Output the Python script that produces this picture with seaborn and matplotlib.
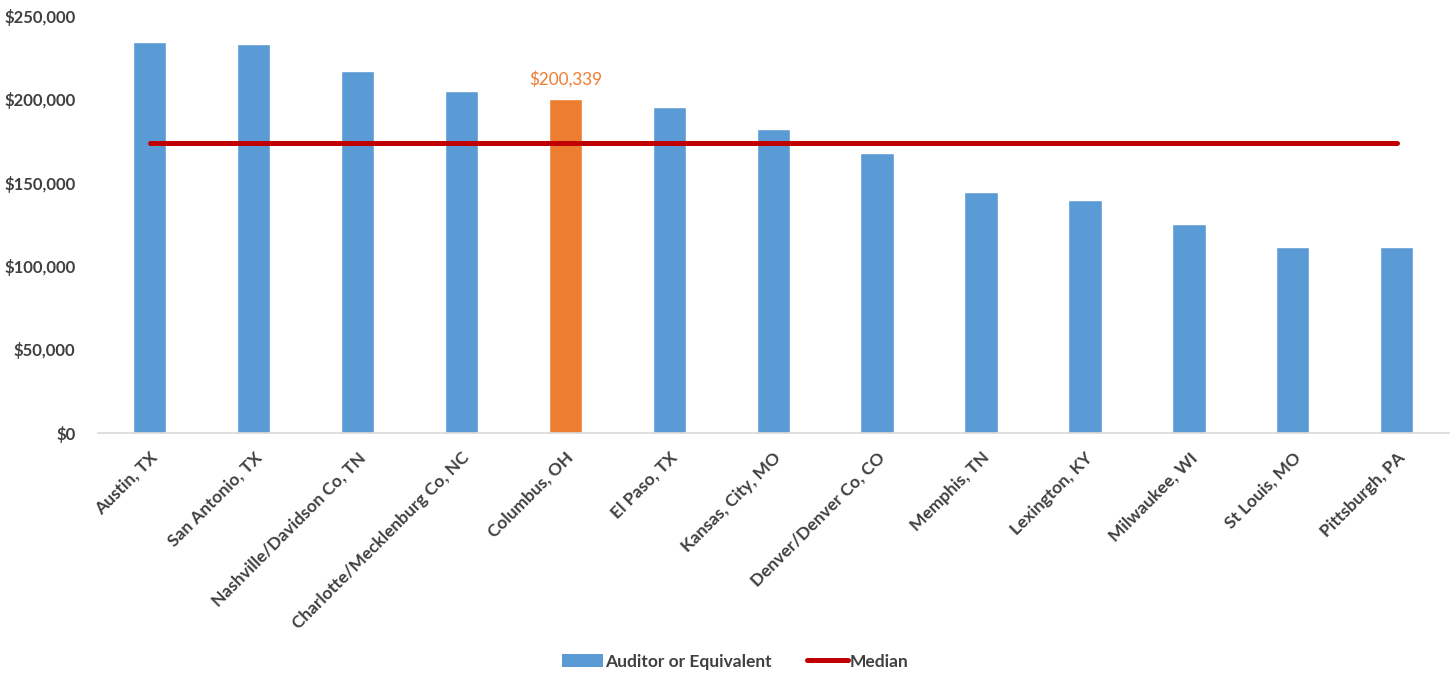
import matplotlib
matplotlib.use("Agg")
import matplotlib.pyplot as plt
import seaborn as sns
import numpy as np
import pandas as pd
from matplotlib.patches import Patch
from matplotlib.lines import Line2D
from matplotlib.ticker import FuncFormatter

cities = ["Austin, TX", "San Antonio, TX", "Nashville/Davidson Co, TN",
          "Charlotte/Mecklenburg Co, NC", "Columbus, OH", "El Paso, TX",
          "Kansas, City, MO", "Denver/Denver Co, CO", "Memphis, TN",
          "Lexington, KY", "Milwaukee, WI", "St Louis, MO", "Pittsburgh, PA"]
salaries = [234600, 233200, 217000, 205200, 200339, 195600, 182400,
            167800, 144200, 139600, 125200, 111600, 111600]
median_value = 174000
highlight = "Columbus, OH"
series_names = ["Auditor or Equivalent", "Median"]
y_ticks = [0, 50000, 100000, 150000, 200000, 250000]

BLUE = "#5B9BD5"
ORANGE = "#ED7D31"
RED = "#C00000"
TXT = "#404040"

sns.set_theme(style="white")
plt.rcParams["font.family"] = ["Lato", "DejaVu Sans"]

df = pd.DataFrame({"city": cities, "salary": salaries})
colors = {c: (ORANGE if c == highlight else BLUE) for c in cities}

fig = plt.figure(figsize=(14.56, 6.73), dpi=100)
ax = fig.add_axes([0.067, 0.357, 0.928, 0.619])

sns.barplot(data=df, x="city", y="salary", hue="city", palette=colors,
            legend=False, width=0.32, ax=ax, saturation=1)

sns.lineplot(x=np.arange(len(cities)), y=[median_value] * len(cities),
             color=RED, linewidth=3.6, ax=ax, solid_capstyle="round")

ax.set_ylim(0, 250000)
ax.set_xlim(-0.5, len(cities) - 0.5)
ax.set_yticks(y_ticks)
ax.yaxis.set_major_formatter(FuncFormatter(lambda v, p: f"${v:,.0f}"))
ax.set_xlabel("")
ax.set_ylabel("")

for s in ["top", "right", "left"]:
    ax.spines[s].set_visible(False)
ax.spines["bottom"].set_color("#D9D9D9")
ax.spines["bottom"].set_linewidth(1.2)
ax.tick_params(axis="both", length=0)
ax.tick_params(axis="y", labelsize=12, labelcolor=TXT, pad=16)
for lab in ax.get_yticklabels():
    lab.set_fontweight("bold")

ax.set_xticks(range(len(cities)))
ax.set_xticklabels(cities, rotation=45, ha="right", rotation_mode="anchor",
                   fontsize=12.5, fontweight="bold", color=TXT)
ax.tick_params(axis="x", pad=12)

# data label for highlighted bar
hi = cities.index(highlight)
ax.annotate(f"${salaries[hi]:,.0f}", xy=(hi, salaries[hi]), xytext=(0, 8),
            textcoords="offset points", ha="center", va="bottom",
            fontsize=12.3, color=ORANGE)

handles = [Patch(facecolor=BLUE, edgecolor="none", label=series_names[0]),
           Line2D([0], [0], color=RED, linewidth=3.6, label=series_names[1])]
leg = fig.legend(handles=handles, loc="center", bbox_to_anchor=(0.505, 0.017),
                 ncol=2, frameon=False, fontsize=12.5, handlelength=2.4,
                 handletextpad=0.1, columnspacing=2.0)
for t in leg.get_texts():
    t.set_fontweight("bold")
    t.set_color(TXT)

fig.savefig("out.png", dpi=100, facecolor="white")
